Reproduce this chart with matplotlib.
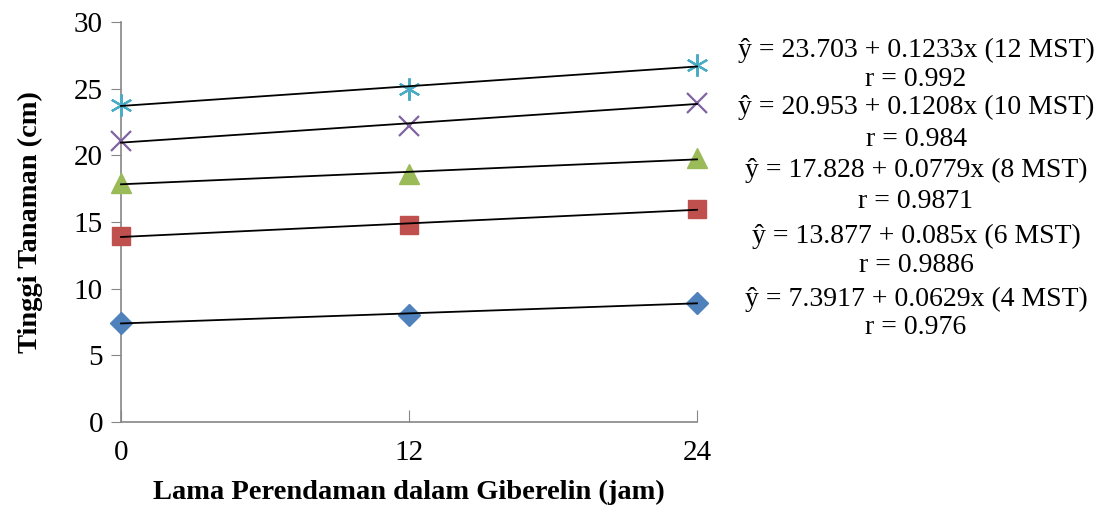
import matplotlib.pyplot as plt
import numpy as np

plt.rcParams['font.family'] = ['Liberation Serif', 'DejaVu Serif']

# soaking time (jam) and plant height (cm) per observation day
x_jam = [0, 12, 24]
mst4 = [7.45, 8.03, 8.96]
mst6 = [13.95, 14.75, 15.99]
mst8 = [17.9, 18.62, 19.77]
mst10 = [21.05, 22.21, 23.95]
mst12 = [23.8, 24.99, 26.76]

eq_labels = [
    ("\u0177 = 23.703 + 0.1233x (12 MST)", "r = 0.992"),
    ("\u0177 = 20.953 + 0.1208x (10 MST)", "r = 0.984"),
    ("\u0177 = 17.828 + 0.0779x (8 MST)", "r = 0.9871"),
    ("\u0177 = 13.877 + 0.085x (6 MST)", "r = 0.9886"),
    ("\u0177 = 7.3917 + 0.0629x (4 MST)", "r = 0.976"),
]

W, H = 1106, 507
fig = plt.figure(figsize=(W / 100, H / 100), dpi=100)
ax = fig.add_axes([121 / W, 1 - 422 / H, (697 - 121) / W, (422 - 22) / H])

series = [
    (mst4, 'D', '#4F81BD', 11),
    (mst6, 's', '#C0504D', 13),
    (mst8, '^', '#9BBB59', 14),
    (mst10, 'x', '#8064A2', 14),
    (mst12, (6, 2, 0), '#4BACC6', 16),
]

xs = np.array(x_jam, dtype=float)
for ys, mk, col, ms in series:
    if mk in ('x',) or isinstance(mk, tuple):
        ax.plot(xs, ys, linestyle='none', marker=mk, color=col, ms=ms,
                mew=1.6, clip_on=False, zorder=3)
    else:
        ax.plot(xs, ys, linestyle='none', marker=mk, color=col, ms=ms,
                mec=col, clip_on=False, zorder=3)
    k, b = np.polyfit(xs, ys, 1)
    ax.plot([xs[0], xs[-1]], [b, b + k * xs[-1]], color='black', lw=1.3,
            clip_on=False, zorder=4)

ax.set_xlim(0, 24)
ax.set_ylim(0, 30)
ax.set_xticks([0, 12, 24])
ax.set_yticks(range(0, 31, 5))
for s in ['top', 'right']:
    ax.spines[s].set_visible(False)
for s in ['left', 'bottom']:
    ax.spines[s].set_color('#868686')
    ax.spines[s].set_linewidth(1.2)
ax.tick_params(axis='y', direction='out', length=7, color='#868686',
               labelsize=21, pad=6)
ax.tick_params(axis='x', direction='in', length=9, color='#868686',
               labelsize=21, pad=13)

ax.set_xlabel('Lama Perendaman dalam Giberelin (jam)', fontsize=20.5,
              fontweight='bold', labelpad=10)
ax.set_ylabel('Tinggi Tanaman (cm)', fontsize=20.5, fontweight='bold',
              labelpad=22)

# equation block on the right
eq_y = [50, 107, 170, 236, 299]
r_y = [80, 139, 201, 266, 327]
for (eq, r), ye, yr in zip(eq_labels, eq_y, r_y):
    fig.text(916 / W, 1 - ye / H, eq, ha='center', va='center', fontsize=20)
    fig.text(916 / W, 1 - yr / H, r, ha='center', va='center', fontsize=20)

fig.savefig('out.png', dpi=100)
